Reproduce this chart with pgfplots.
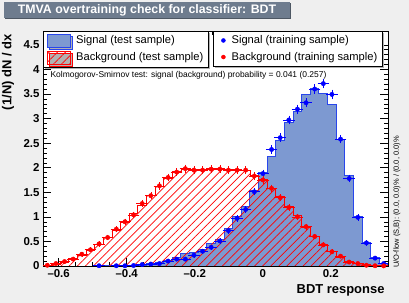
\documentclass[border=0pt]{standalone}
\usepackage{fontspec}
\setmainfont{Liberation Sans}
\usepackage{pgfplots}
\pgfplotsset{compat=1.18}
\usepackage{pgfplotstable}
\usetikzlibrary{patterns.meta,shadows}
\definecolor{canvasgray}{RGB}{239,239,239}
\definecolor{titlebox}{RGB}{110,124,142}
\definecolor{sigfill}{RGB}{125,153,209}
\definecolor{sigline}{RGB}{40,70,235}

% test-sample histograms: left bin edges (last row = right edge of last bin)
\pgfplotstableread{
x sig bkg
-0.6460 0 0.02
-0.6207 0 0.04
-0.5953 0 0.08
-0.5700 0 0.15
-0.5446 0 0.22
-0.5193 0 0.31
-0.4939 0.003 0.44
-0.4686 0.003 0.59
-0.4432 0.005 0.73
-0.4179 0.007 0.88
-0.3925 0.012 1.06
-0.3672 0.02 1.24
-0.3418 0.05 1.44
-0.3165 0.08 1.61
-0.2911 0.12 1.79
-0.2658 0.18 1.92
-0.2404 0.26 1.96
-0.2151 0.27 1.97
-0.1897 0.34 1.96
-0.1644 0.46 1.98
-0.1390 0.54 1.98
-0.1137 0.77 1.97
-0.0883 1.00 1.96
-0.0630 1.21 1.95
-0.0376 1.54 1.85
-0.0123 1.90 1.76
0.0131 2.22 1.58
0.0384 2.55 1.41
0.0638 2.92 1.21
0.0891 3.15 1.02
0.1145 3.48 0.79
0.1398 3.62 0.60
0.1652 3.50 0.43
0.1905 3.29 0.29
0.2159 2.57 0.18
0.2412 1.85 0.09
0.2666 1.00 0.05
0.2919 0.47 0.03
0.3173 0.17 0.01
0.3426 0.05 0.005
0.3680 0.05 0.005
}\histtab

% signal training sample (bin centres)
\pgfplotstableread{
x s ex es
-0.4812 0.005 0.012675 0.004
-0.4305 0.005 0.012675 0.004
-0.4052 0.005 0.012675 0.004
-0.3798 0.01 0.012675 0.005
-0.3545 0.03 0.012675 0.007
-0.3291 0.04 0.012675 0.007
-0.3038 0.05 0.012675 0.008
-0.2784 0.10 0.012675 0.011
-0.2531 0.14 0.012675 0.013
-0.2277 0.14 0.012675 0.013
-0.2024 0.22 0.012675 0.017
-0.1770 0.30 0.012675 0.019
-0.1517 0.38 0.012675 0.022
-0.1263 0.51 0.012675 0.025
-0.1010 0.72 0.012675 0.030
-0.0756 0.97 0.012675 0.035
-0.0503 1.15 0.012675 0.038
-0.0249 1.51 0.012675 0.043
0.0004 1.88 0.012675 0.048
0.0258 2.37 0.012675 0.054
0.0511 2.61 0.012675 0.057
0.0765 2.97 0.012675 0.060
0.1018 3.19 0.012675 0.063
0.1272 3.32 0.012675 0.064
0.1525 3.60 0.012675 0.066
0.1779 3.71 0.012675 0.067
0.2032 3.49 0.012675 0.065
0.2286 2.58 0.012675 0.056
0.2539 1.78 0.012675 0.047
0.2793 0.99 0.012675 0.035
0.3046 0.47 0.012675 0.024
0.3300 0.16 0.012675 0.014
0.3553 0.05 0.012675 0.008
}\sigtrain

% background training sample (bin centres)
\pgfplotstableread{
x b ex eb
-0.6333 0.015 0.012675 0.004
-0.6080 0.05 0.012675 0.008
-0.5826 0.09 0.012675 0.011
-0.5573 0.14 0.012675 0.013
-0.5319 0.24 0.012675 0.017
-0.5066 0.33 0.012675 0.020
-0.4812 0.45 0.012675 0.023
-0.4559 0.58 0.012675 0.027
-0.4305 0.75 0.012675 0.030
-0.4052 0.90 0.012675 0.033
-0.3798 1.04 0.012675 0.036
-0.3545 1.27 0.012675 0.039
-0.3291 1.43 0.012675 0.042
-0.3038 1.63 0.012675 0.045
-0.2784 1.80 0.012675 0.047
-0.2531 1.91 0.012675 0.048
-0.2277 1.98 0.012675 0.049
-0.2024 1.95 0.012675 0.049
-0.1770 1.95 0.012675 0.049
-0.1517 1.97 0.012675 0.049
-0.1263 1.97 0.012675 0.049
-0.1010 1.95 0.012675 0.049
-0.0756 1.95 0.012675 0.049
-0.0503 1.95 0.012675 0.049
-0.0249 1.83 0.012675 0.047
0.0004 1.75 0.012675 0.046
0.0258 1.58 0.012675 0.044
0.0511 1.39 0.012675 0.041
0.0765 1.19 0.012675 0.038
0.1018 1.00 0.012675 0.035
0.1272 0.80 0.012675 0.031
0.1525 0.60 0.012675 0.027
0.1779 0.43 0.012675 0.023
0.2032 0.29 0.012675 0.019
0.2286 0.20 0.012675 0.016
0.2539 0.08 0.012675 0.010
0.2793 0.05 0.012675 0.008
0.3046 0.015 0.012675 0.004
0.3300 0.005 0.012675 0.003
0.3553 0.002 0.012675 0.002
}\bkgtrain

\tikzset{
  myleg/.style={
    draw=black, line width=0.4bp, fill=white,
    font=\fontsize{11.2}{13}\selectfont,
    inner xsep=3bp, inner ysep=2.5bp, row sep=3bp,
    drop shadow={shadow xshift=2bp, shadow yshift=-2bp, fill=black!30, opacity=1},
  },
}
\pgfplotsset{
  commonaxis/.style={
    at={(43bp,37bp)}, anchor=south west,
    scale only axis, width=345bp, height=235bp,
  },
}

\begin{document}
\begin{tikzpicture}
\path[use as bounding box, fill=canvasgray] (0bp,0bp) rectangle (409bp,303bp);
% title box
\fill[titlebox!70!black] (5bp,284bp) rectangle (291bp,300bp);
\fill[titlebox] (4bp,285bp) rectangle (290bp,301bp);
\node[text=white, font=\bfseries\fontsize{12.4}{14}\selectfont] at (147bp,293bp) {TMVA overtraining check for classifier: BDT};

\begin{axis}[
  commonaxis,
  xmin=-0.646, xmax=0.368, ymin=0, ymax=4.78,
  axis background/.style={fill=white},
  axis line style={line width=0.6bp},
  xtick={-0.6,-0.4,-0.2,0,0.2},
  xticklabels={–0.6,–0.4,–0.2,0,0.2},
  ytick={0,0.5,1,1.5,2,2.5,3,3.5,4,4.5},
  yticklabels={0,0.5,1,1.5,2,2.5,3,3.5,4,4.5},
  minor x tick num=3, minor y tick num=4,
  major tick length=8bp, minor tick length=4bp,
  tick style={line width=0.5bp, black},
  tick label style={font=\bfseries\fontsize{11.5}{13}\selectfont},
  xlabel={BDT response},
  xlabel style={at={(axis description cs:1,-0.102)}, anchor=east, font=\bfseries\fontsize{13}{15}\selectfont},
  ylabel={(1/N) dN / dx},
  ylabel style={at={(axis description cs:-0.1014,1)}, anchor=east, font=\bfseries\fontsize{13}{15}\selectfont},
  legend style={myleg, at={(0,1)}, anchor=north west, cells={anchor=west}},
  legend cell align=left,
  legend image code/.code={\draw[#1] (1bp,-6.5bp) rectangle (24bp,6.5bp); \path (0bp,0bp) (27bp,0bp);},
]
\addplot[const plot, fill=sigfill, draw=sigline, line width=1bp] table[x=x, y=sig]{\histtab} \closedcycle;
\addlegendentry{Signal (test sample)}
\addplot[const plot, draw=red, line width=0.8bp, pattern={Lines[angle=45, distance=5.7bp, line width=0.7bp]}, pattern color=red] table[x=x, y=bkg]{\histtab} \closedcycle;
\addlegendentry{Background (test sample)}
\addplot[forget plot, only marks, mark=*, mark size=2.2bp, color=blue,
  error bars/.cd, x dir=both, x explicit, y dir=both, y explicit,
  error bar style={line width=0.6bp, blue},
  error mark options={blue, mark size=1.5bp, line width=0.6bp}]
  table[x=x, y=s, x error=ex, y error=es]{\sigtrain};
\addplot[forget plot, only marks, mark=*, mark size=2.2bp, color=red,
  error bars/.cd, x dir=both, x explicit, y dir=both, y explicit,
  error bar style={line width=0.6bp, red},
  error mark options={red, mark size=1.5bp, line width=0.6bp}]
  table[x=x, y=b, x error=ex, y error=eb]{\bkgtrain};
\end{axis}

\begin{axis}[
  commonaxis, hide axis,
  xmin=0, xmax=1, ymin=0, ymax=1,
  legend style={myleg, at={(0.4928,1)}, anchor=north west, cells={anchor=west}},
  legend cell align=left,
  legend image code/.code={\draw[#1] plot coordinates {(7bp,0bp)}; \path (0bp,-6.5bp) (13bp,6.5bp);},
]
\addlegendimage{only marks, mark=*, mark size=2bp, blue}
\addlegendentry{Signal (training sample)}
\addlegendimage{only marks, mark=*, mark size=2bp, red}
\addlegendentry{Background (training sample)}
\end{axis}

\node[anchor=west, font=\fontsize{8.5}{10}\selectfont] at (47bp,228bp) {Kolmogorov-Smirnov test: signal (background) probability = 0.041 (0.257)};
\node[rotate=90, font=\fontsize{7.5}{9}\selectfont] at (397bp,101bp) {U/O-flow (S,B): (0.0, 0.0)\% / (0.0, 0.0)\%};
\end{tikzpicture}
\end{document}
